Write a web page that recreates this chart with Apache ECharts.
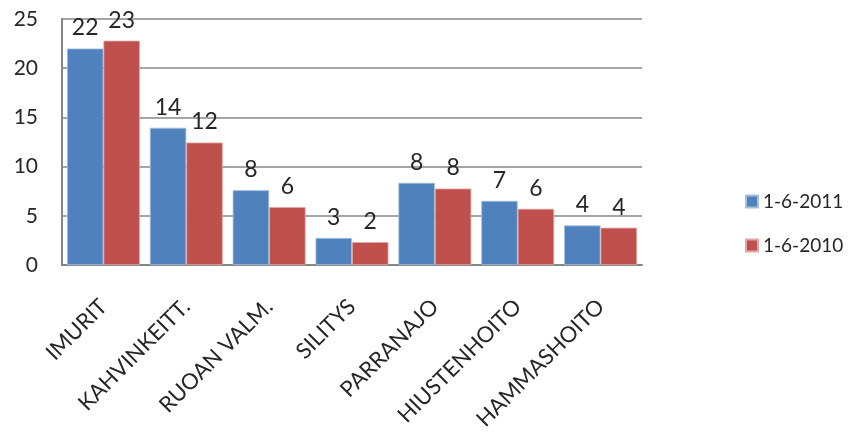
<!DOCTYPE html>
<html>
<head>
<meta charset="utf-8">
<script src="https://cdn.jsdelivr.net/npm/echarts@6/dist/echarts.min.js"></script>
<style>html,body{margin:0;padding:0;background:#fff;}#c{width:849px;height:433px;}</style>
</head>
<body>
<div id="c"></div>
<script>
var categories = ['IMURIT', 'KAHVINKEITT.', 'RUOAN VALM.', 'SILITYS', 'PARRANAJO', 'HIUSTENHOITO', 'HAMMASHOITO'];
var series2011 = [22.0, 13.95, 7.6, 2.75, 8.35, 6.52, 4.02];
var series2010 = [22.8, 12.45, 5.88, 2.33, 7.77, 5.71, 3.79];
var seriesNames = ['1-6-2011', '1-6-2010'];
var yTicks = { min: 0, max: 25, interval: 5 };

var FONT = 'Lato';
var chart = echarts.init(document.getElementById('c'), null, { renderer: 'canvas' });
function lbl() {
  return {
    show: true, position: 'top', distance: 9,
    fontFamily: FONT, fontSize: 23, color: '#262626',
    formatter: function (p) { return Math.round(p.value); }
  };
}
chart.setOption({
  animation: false,
  backgroundColor: '#fff',
  grid: { left: 62, right: 207, top: 19, bottom: 167, containLabel: false },
  legend: {
    orient: 'vertical', left: 740, top: 187, itemGap: 25,
    itemWidth: 12, itemHeight: 12, icon: 'rect',
    textStyle: { fontFamily: FONT, fontSize: 19, color: '#262626' },
    data: seriesNames
  },
  xAxis: {
    type: 'category', data: categories,
    axisLine: { lineStyle: { color: '#868686', width: 2 } },
    axisTick: { show: false },
    axisLabel: { rotate: 45, margin: 38, fontFamily: FONT, fontSize: 22, color: '#262626', interval: 0 }
  },
  yAxis: {
    type: 'value', min: yTicks.min, max: yTicks.max, interval: yTicks.interval,
    axisLine: { show: true, lineStyle: { color: '#868686', width: 2 } },
    axisTick: { show: false },
    splitLine: { lineStyle: { color: '#868686', width: 1.5 } },
    axisLabel: { margin: 24, fontFamily: FONT, fontSize: 21, color: '#262626' }
  },
  series: [
    { name: seriesNames[0], type: 'bar', data: series2011, barGap: '0%', barCategoryGap: '12%',
      itemStyle: { color: '#4F81BD', borderColor: '#A7C0DE', borderWidth: 0.8 }, label: lbl() },
    { name: seriesNames[1], type: 'bar', data: series2010,
      itemStyle: { color: '#C0504D', borderColor: '#E0A8A6', borderWidth: 0.8 }, label: lbl() }
  ]
});
</script>
</body>
</html>
